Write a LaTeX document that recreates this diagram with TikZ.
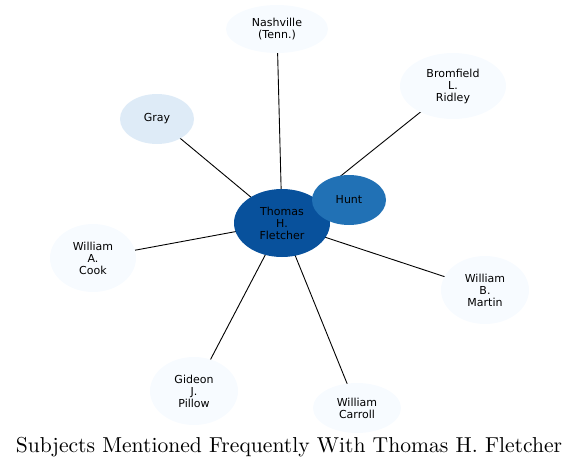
\documentclass[tikz,border=0pt]{standalone}
\usepackage{fontspec}
\newfontfamily\labelfont{DejaVu Sans}
\newfontfamily\titlefont{lmroman10-regular}[Extension=.otf]
\usetikzlibrary{shapes.geometric}
\pgfdeclarelayer{bg}
\pgfsetlayers{bg,main}
\definecolor{cdark}{HTML}{08519C}
\definecolor{cmid}{HTML}{2171B5}
\definecolor{clight}{HTML}{DEEBF7}
\definecolor{cpale}{HTML}{F7FBFF}
\tikzset{
  subj/.style={ellipse, inner sep=0pt, align=center, font=\labelfont\fontsize{11}{12}\selectfont, text=black},
  link/.style={draw=black, line width=0.9pt}
}
\begin{document}
\begin{tikzpicture}[x=1pt,y=-1pt]
\useasboundingbox (0,0) rectangle (579,469);
\node[subj, fill=cdark, minimum width=96pt, minimum height=68pt] (tf) at (282,223) {Thomas\\H.\\Fletcher};
\node[subj, fill=cmid, minimum width=74pt, minimum height=50pt] (hunt) at (349,200) {Hunt};
\node[subj, fill=cpale, minimum width=102pt, minimum height=48pt] (nash) at (277,29) {Nashville\\(Tenn.)};
\node[subj, fill=cpale, minimum width=106pt, minimum height=66pt] (brl) at (453,86) {Bromfield\\L.\\Ridley};
\node[subj, fill=clight, minimum width=74pt, minimum height=50pt] (gray) at (157,119) {Gray};
\node[subj, fill=cpale, minimum width=86pt, minimum height=68pt] (wac) at (93,258) {William\\A.\\Cook};
\node[subj, fill=cpale, minimum width=88pt, minimum height=68pt] (wbm) at (485,290) {William\\B.\\Martin};
\node[subj, fill=cpale, minimum width=88pt, minimum height=68pt] (gjp) at (194,391) {Gideon\\J.\\Pillow};
\node[subj, fill=cpale, minimum width=88pt, minimum height=50pt] (wc) at (357,408) {William\\Carroll};
\begin{pgfonlayer}{bg}
\foreach \t in {hunt,nash,brl,gray,wac,wbm,gjp,wc}
  \draw[link] (tf.center) -- (\t.center);
\end{pgfonlayer}
\node[font=\titlefont\fontsize{21.6}{24}\selectfont, inner sep=0pt] (title) at (289,447) {Subjects Mentioned Frequently With Thomas H. Fletcher};
\end{tikzpicture}
\end{document}
